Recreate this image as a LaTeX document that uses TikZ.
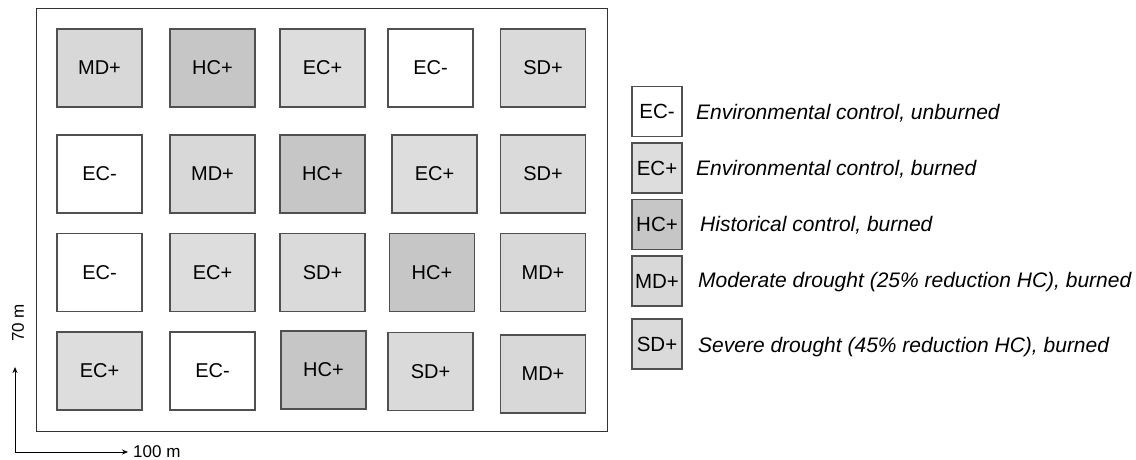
\documentclass[tikz,border=0pt]{standalone}
\usepackage{fontspec}
\setmainfont{Liberation Sans}
\usetikzlibrary{arrows.meta}
\definecolor{cHC}{HTML}{C6C6C6}
\definecolor{cMD}{HTML}{D8D8D8}
\definecolor{cEC}{HTML}{DDDDDD}
\definecolor{cSD}{HTML}{DADADA}
\definecolor{cEm}{HTML}{FFFFFF}
\definecolor{edge}{HTML}{505050}
\tikzset{
  plot/.style={draw=edge, line width=1.1pt, inner sep=0pt, font=\fontsize{20}{24}\selectfont},
  hc/.style={plot, fill=cHC},
  md/.style={plot, fill=cMD},
  ecp/.style={plot, fill=cEC},
  sd/.style={plot, fill=cSD},
  ecm/.style={plot, fill=cEm},
  sq/.style={minimum width=85pt, minimum height=78pt},
  leg/.style={minimum width=50pt, minimum height=50pt, font=\fontsize{20.5}{24}\selectfont},
  legtext/.style={anchor=west, inner sep=0pt, font=\fontsize{21}{25}\selectfont\itshape},
  axis/.style={line width=0.9pt, -{Stealth[length=6pt,width=5pt]}},
}
\begin{document}
\begin{tikzpicture}[x=1pt,y=-1pt]
\useasboundingbox (0,0) rectangle (1136,459);
% outer frame
\node[draw=black!80, line width=0.9pt, minimum width=571pt, minimum height=423pt, inner sep=0pt] (field) at (321.5,219.5) {};
% row 1
\node[md,sq] (r1c1) at (99.5,68) {MD+};
\node[hc,sq] (r1c2) at (212.5,68) {HC+};
\node[ecp,sq] (r1c3) at (322.5,68) {EC+};
\node[ecm,sq] (r1c4) at (430.5,68) {EC-};
\node[sd,sq] (r1c5) at (543,68) {SD+};
% row 2
\node[ecm,sq] (r2c1) at (99.5,174) {EC-};
\node[md,sq] (r2c2) at (212.5,174) {MD+};
\node[hc,sq] (r2c3) at (322.5,174) {HC+};
\node[ecp,sq] (r2c4) at (434.5,174) {EC+};
\node[sd,sq] (r2c5) at (543,174) {SD+};
% row 3
\node[ecm,sq] (r3c1) at (99.5,272.5) {EC-};
\node[ecp,sq] (r3c2) at (212.5,272.5) {EC+};
\node[sd,sq] (r3c3) at (322.5,272.5) {SD+};
\node[hc,sq] (r3c4) at (432,272.5) {HC+};
\node[md,sq] (r3c5) at (543,272.5) {MD+};
% row 4
\node[ecp,sq] (r4c1) at (99.5,371) {EC+};
\node[ecm,sq] (r4c2) at (212.5,371) {EC-};
\node[hc,sq] (r4c3) at (323.5,370) {HC+};
\node[sd,sq] (r4c4) at (430.5,371.5) {SD+};
\node[md,sq] (r4c5) at (543,374) {MD+};
% axes
\coordinate (o) at (15,452);
\coordinate (xend) at (128,452);
\coordinate (yend) at (15,367);
\draw[axis] (o) -- (xend);
\draw[axis] (o) -- (yend);
\node[anchor=base west, inner sep=0pt, font=\fontsize{17}{20}\selectfont] (xlab) at (133,457) {100 m};
\node[rotate=90, inner sep=0pt, font=\fontsize{17}{20}\selectfont] (ylab) at (18,323) {70 m};
% legend
\node[ecm,leg] (l1) at (657,111.5) {EC-};
\node[ecp,leg] (l2) at (657,168) {EC+};
\node[hc,leg] (l3) at (657,224.5) {HC+};
\node[md,leg] (l4) at (657,281) {MD+};
\node[sd,leg] (l5) at (657,344) {SD+};
\node[legtext] (t1) at (696,113) {Environmental control, unburned};
\node[legtext] (t2) at (696,169) {Environmental control, burned};
\node[legtext] (t3) at (700,225) {Historical control, burned};
\node[legtext] (t4) at (698,282) {Moderate drought (25\% reduction HC), burned};
\node[legtext] (t5) at (698,347) {Severe drought (45\% reduction HC), burned};
\end{tikzpicture}
\end{document}
